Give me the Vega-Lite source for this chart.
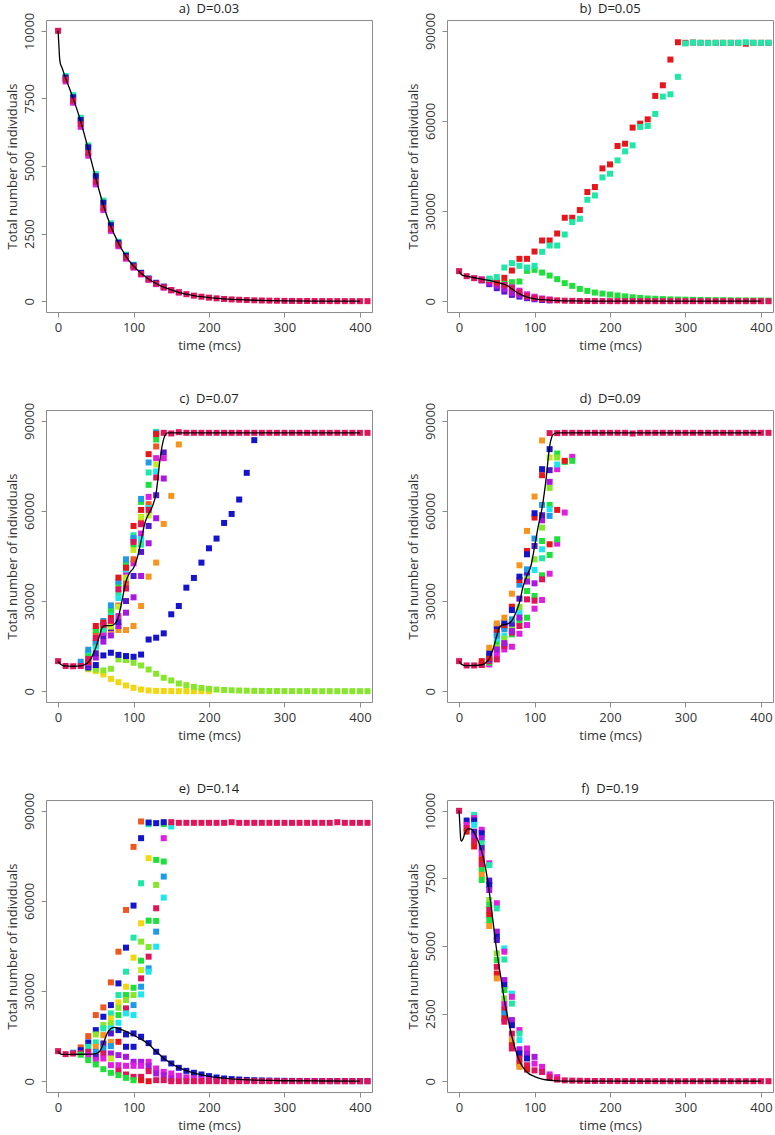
{
"$schema": "https://vega.github.io/schema/vega-lite/v6.json",
"padding": {"left": 5, "top": 2, "right": 0, "bottom": 0},
"background": "white",
"config": {
 "font": "Open Sans",
 "view": {"stroke": "#8c8c8c", "strokeWidth": 1},
 "axis": {"grid": false, "domain": false, "tickColor": "#8c8c8c", "tickSize": 5, "tickWidth": 1, "labelFontSize": 13, "titleFontSize": 13, "labelColor": "#333333", "titleColor": "#333333", "titleFontWeight": "normal", "labelFont": "Open Sans", "titleFont": "Open Sans", "labelFlush": false, "labelOverlap": false},
 "axisX": {"labelPadding": 4, "titlePadding": 5},
 "axisY": {"labelAngle": 270, "labelPadding": 5, "titlePadding": 4, "labelAlign": "center", "labelBaseline": "bottom"},
 "title": {"fontSize": 13, "fontWeight": "normal", "color": "#222222", "anchor": "middle", "frame": "group", "offset": -4, "font": "Open Sans"}
},
"datasets": {
"pts": [
{"p":"a","t":10,"v":8330,"c":"s"},{"p":"a","t":20,"v":7620,"c":"s"},{"p":"a","t":30,"v":6780,"c":"s"},{"p":"a","t":40,"v":5760,"c":"s"},{"p":"a","t":50,"v":4700,"c":"s"},{"p":"a","t":60,"v":3720,"c":"s"},{"p":"a","t":70,"v":2880,"c":"s"},{"p":"a","t":80,"v":2200,"c":"s"},{"p":"a","t":90,"v":1720,"c":"s"},{"p":"a","t":100,"v":1350,"c":"s"},
{"p":"a","t":10,"v":8270,"c":"b"},{"p":"a","t":20,"v":7540,"c":"b"},{"p":"a","t":30,"v":6700,"c":"b"},{"p":"a","t":40,"v":5690,"c":"b"},{"p":"a","t":50,"v":4620,"c":"b"},{"p":"a","t":60,"v":3640,"c":"b"},{"p":"a","t":70,"v":2810,"c":"b"},{"p":"a","t":80,"v":2160,"c":"b"},{"p":"a","t":90,"v":1680,"c":"b"},{"p":"a","t":100,"v":1320,"c":"b"},{"p":"a","t":110,"v":1050,"c":"b"},{"p":"a","t":120,"v":840,"c":"b"},{"p":"a","t":130,"v":680,"c":"b"},{"p":"a","t":140,"v":540,"c":"b"},
{"p":"a","t":10,"v":8130,"c":"m"},{"p":"a","t":20,"v":7340,"c":"m"},{"p":"a","t":30,"v":6450,"c":"m"},{"p":"a","t":40,"v":5380,"c":"m"},{"p":"a","t":50,"v":4320,"c":"m"},{"p":"a","t":60,"v":3370,"c":"m"},{"p":"a","t":70,"v":2600,"c":"m"},{"p":"a","t":80,"v":2030,"c":"m"},{"p":"a","t":90,"v":1570,"c":"m"},{"p":"a","t":100,"v":1240,"c":"m"},{"p":"a","t":110,"v":990,"c":"m"},{"p":"a","t":120,"v":790,"c":"m"},{"p":"a","t":130,"v":630,"c":"m"},{"p":"a","t":140,"v":500,"c":"m"},{"p":"a","t":150,"v":400,"c":"m"},{"p":"a","t":160,"v":320,"c":"m"},
{"p":"a","t":0,"v":10000,"c":"p"},{"p":"a","t":10,"v":8200,"c":"p"},{"p":"a","t":20,"v":7420,"c":"p"},{"p":"a","t":30,"v":6550,"c":"p"},{"p":"a","t":40,"v":5480,"c":"p"},{"p":"a","t":50,"v":4420,"c":"p"},{"p":"a","t":60,"v":3450,"c":"p"},{"p":"a","t":70,"v":2670,"c":"p"},{"p":"a","t":80,"v":2090,"c":"p"},{"p":"a","t":90,"v":1620,"c":"p"},{"p":"a","t":100,"v":1280,"c":"p"},{"p":"a","t":110,"v":1010,"c":"p"},{"p":"a","t":120,"v":810,"c":"p"},{"p":"a","t":130,"v":650,"c":"p"},{"p":"a","t":140,"v":515,"c":"p"},{"p":"a","t":150,"v":410,"c":"p"},{"p":"a","t":160,"v":330,"c":"p"},{"p":"a","t":170,"v":260,"c":"p"},{"p":"a","t":180,"v":205,"c":"p"},{"p":"a","t":190,"v":165,"c":"p"},{"p":"a","t":200,"v":130,"c":"p"},{"p":"a","t":210,"v":105,"c":"p"},{"p":"a","t":220,"v":82,"c":"p"},{"p":"a","t":230,"v":65,"c":"p"},{"p":"a","t":240,"v":52,"c":"p"},{"p":"a","t":250,"v":42,"c":"p"},{"p":"a","t":260,"v":33,"c":"p"},{"p":"a","t":270,"v":26,"c":"p"},{"p":"a","t":280,"v":20,"c":"p"},{"p":"a","t":290,"v":16,"c":"p"},{"p":"a","t":300,"v":12,"c":"p"},{"p":"a","t":310,"v":10,"c":"p"},{"p":"a","t":320,"v":8,"c":"p"},{"p":"a","t":330,"v":6,"c":"p"},{"p":"a","t":340,"v":5,"c":"p"},{"p":"a","t":350,"v":4,"c":"p"},{"p":"a","t":360,"v":3,"c":"p"},{"p":"a","t":370,"v":2,"c":"p"},{"p":"a","t":380,"v":2,"c":"p"},{"p":"a","t":390,"v":1,"c":"p"},{"p":"a","t":400,"v":1,"c":"p"},{"p":"a","t":410,"v":1,"c":"p"},

{"p":"b","t":40,"v":7300,"c":"g"},{"p":"b","t":50,"v":6800,"c":"g"},{"p":"b","t":60,"v":6000,"c":"g"},{"p":"b","t":70,"v":6330,"c":"g"},{"p":"b","t":80,"v":6550,"c":"g"},{"p":"b","t":90,"v":10100,"c":"g"},{"p":"b","t":100,"v":10430,"c":"g"},{"p":"b","t":110,"v":9530,"c":"g"},{"p":"b","t":120,"v":8530,"c":"g"},{"p":"b","t":130,"v":7330,"c":"g"},{"p":"b","t":140,"v":6000,"c":"g"},{"p":"b","t":150,"v":5100,"c":"g"},{"p":"b","t":160,"v":4100,"c":"g"},{"p":"b","t":170,"v":3430,"c":"g"},{"p":"b","t":180,"v":2870,"c":"g"},{"p":"b","t":190,"v":2530,"c":"g"},{"p":"b","t":200,"v":2200,"c":"g"},{"p":"b","t":210,"v":1900,"c":"g"},{"p":"b","t":220,"v":1600,"c":"g"},{"p":"b","t":230,"v":1300,"c":"g"},{"p":"b","t":240,"v":1100,"c":"g"},{"p":"b","t":250,"v":900,"c":"g"},{"p":"b","t":260,"v":800,"c":"g"},{"p":"b","t":270,"v":700,"c":"g"},{"p":"b","t":280,"v":600,"c":"g"},{"p":"b","t":290,"v":550,"c":"g"},{"p":"b","t":300,"v":500,"c":"g"},{"p":"b","t":310,"v":450,"c":"g"},{"p":"b","t":320,"v":400,"c":"g"},{"p":"b","t":330,"v":380,"c":"g"},{"p":"b","t":340,"v":350,"c":"g"},{"p":"b","t":350,"v":320,"c":"g"},{"p":"b","t":360,"v":300,"c":"g"},{"p":"b","t":370,"v":280,"c":"g"},{"p":"b","t":380,"v":260,"c":"g"},{"p":"b","t":390,"v":240,"c":"g"},{"p":"b","t":400,"v":220,"c":"g"},{"p":"b","t":410,"v":200,"c":"g"},
{"p":"b","t":30,"v":7000,"c":"i"},{"p":"b","t":40,"v":5670,"c":"i"},{"p":"b","t":50,"v":4330,"c":"i"},{"p":"b","t":60,"v":3200,"c":"i"},{"p":"b","t":70,"v":2100,"c":"i"},{"p":"b","t":80,"v":1530,"c":"i"},{"p":"b","t":90,"v":1000,"c":"i"},{"p":"b","t":100,"v":650,"c":"i"},{"p":"b","t":110,"v":400,"c":"i"},{"p":"b","t":120,"v":250,"c":"i"},
{"p":"b","t":30,"v":6900,"c":"u"},{"p":"b","t":40,"v":6100,"c":"u"},{"p":"b","t":50,"v":5100,"c":"u"},{"p":"b","t":60,"v":4000,"c":"u"},{"p":"b","t":70,"v":2700,"c":"u"},{"p":"b","t":80,"v":2000,"c":"u"},{"p":"b","t":90,"v":1300,"c":"u"},{"p":"b","t":100,"v":900,"c":"u"},
{"p":"b","t":30,"v":7300,"c":"m"},{"p":"b","t":40,"v":6900,"c":"m"},{"p":"b","t":50,"v":6400,"c":"m"},{"p":"b","t":60,"v":5400,"c":"m"},{"p":"b","t":70,"v":4600,"c":"m"},{"p":"b","t":80,"v":3500,"c":"m"},{"p":"b","t":90,"v":2300,"c":"m"},{"p":"b","t":100,"v":1500,"c":"m"},{"p":"b","t":110,"v":900,"c":"m"},{"p":"b","t":120,"v":550,"c":"m"},
{"p":"b","t":0,"v":10000,"c":"p"},{"p":"b","t":10,"v":8330,"c":"p"},{"p":"b","t":20,"v":7670,"c":"p"},{"p":"b","t":30,"v":7100,"c":"p"},{"p":"b","t":40,"v":6900,"c":"p"},{"p":"b","t":50,"v":6000,"c":"p"},{"p":"b","t":60,"v":5300,"c":"p"},{"p":"b","t":70,"v":4300,"c":"p"},{"p":"b","t":80,"v":3000,"c":"p"},{"p":"b","t":90,"v":1700,"c":"p"},{"p":"b","t":100,"v":1100,"c":"p"},{"p":"b","t":110,"v":700,"c":"p"},{"p":"b","t":120,"v":450,"c":"p"},{"p":"b","t":130,"v":280,"c":"p"},{"p":"b","t":140,"v":170,"c":"p"},{"p":"b","t":150,"v":110,"c":"p"},{"p":"b","t":160,"v":70,"c":"p"},{"p":"b","t":170,"v":45,"c":"p"},{"p":"b","t":180,"v":30,"c":"p"},{"p":"b","t":190,"v":20,"c":"p"},{"p":"b","t":200,"v":15,"c":"p"},{"p":"b","t":210,"v":10,"c":"p"},{"p":"b","t":220,"v":8,"c":"p"},{"p":"b","t":230,"v":6,"c":"p"},{"p":"b","t":240,"v":5,"c":"p"},{"p":"b","t":250,"v":4,"c":"p"},{"p":"b","t":260,"v":3,"c":"p"},{"p":"b","t":270,"v":2,"c":"p"},{"p":"b","t":280,"v":2,"c":"p"},{"p":"b","t":290,"v":1,"c":"p"},{"p":"b","t":300,"v":0,"c":"p"},{"p":"b","t":310,"v":0,"c":"p"},{"p":"b","t":320,"v":0,"c":"p"},{"p":"b","t":330,"v":0,"c":"p"},{"p":"b","t":340,"v":0,"c":"p"},{"p":"b","t":350,"v":0,"c":"p"},{"p":"b","t":360,"v":0,"c":"p"},{"p":"b","t":370,"v":0,"c":"p"},{"p":"b","t":380,"v":0,"c":"p"},{"p":"b","t":390,"v":0,"c":"p"},{"p":"b","t":400,"v":0,"c":"p"},{"p":"b","t":410,"v":0,"c":"p"},
{"p":"b","t":50,"v":6500,"c":"r"},{"p":"b","t":60,"v":7770,"c":"r"},{"p":"b","t":70,"v":10200,"c":"r"},{"p":"b","t":80,"v":14100,"c":"r"},{"p":"b","t":90,"v":14100,"c":"r"},{"p":"b","t":100,"v":16530,"c":"r"},{"p":"b","t":110,"v":20200,"c":"r"},{"p":"b","t":120,"v":20200,"c":"r"},{"p":"b","t":130,"v":22530,"c":"r"},{"p":"b","t":140,"v":27770,"c":"r"},{"p":"b","t":150,"v":27770,"c":"r"},{"p":"b","t":160,"v":30330,"c":"r"},{"p":"b","t":170,"v":36330,"c":"r"},{"p":"b","t":180,"v":38000,"c":"r"},{"p":"b","t":190,"v":44200,"c":"r"},{"p":"b","t":200,"v":45530,"c":"r"},{"p":"b","t":210,"v":51670,"c":"r"},{"p":"b","t":220,"v":52430,"c":"r"},{"p":"b","t":230,"v":57770,"c":"r"},{"p":"b","t":240,"v":59100,"c":"r"},{"p":"b","t":250,"v":60530,"c":"r"},{"p":"b","t":260,"v":68330,"c":"r"},{"p":"b","t":270,"v":71870,"c":"r"},{"p":"b","t":280,"v":80430,"c":"r"},{"p":"b","t":290,"v":86200,"c":"r"},{"p":"b","t":300,"v":86000,"c":"r"},{"p":"b","t":310,"v":86100,"c":"r"},{"p":"b","t":320,"v":86000,"c":"r"},{"p":"b","t":330,"v":86000,"c":"r"},{"p":"b","t":340,"v":86000,"c":"r"},{"p":"b","t":350,"v":86000,"c":"r"},{"p":"b","t":360,"v":86000,"c":"r"},{"p":"b","t":370,"v":86000,"c":"r"},{"p":"b","t":380,"v":85700,"c":"r"},{"p":"b","t":390,"v":86000,"c":"r"},{"p":"b","t":400,"v":86000,"c":"r"},{"p":"b","t":410,"v":86000,"c":"r"},
{"p":"b","t":40,"v":7500,"c":"s"},{"p":"b","t":50,"v":8000,"c":"s"},{"p":"b","t":60,"v":11200,"c":"s"},{"p":"b","t":70,"v":12670,"c":"s"},{"p":"b","t":80,"v":11770,"c":"s"},{"p":"b","t":90,"v":11200,"c":"s"},{"p":"b","t":100,"v":11770,"c":"s"},{"p":"b","t":110,"v":16430,"c":"s"},{"p":"b","t":120,"v":18530,"c":"s"},{"p":"b","t":130,"v":18530,"c":"s"},{"p":"b","t":140,"v":22200,"c":"s"},{"p":"b","t":150,"v":26330,"c":"s"},{"p":"b","t":160,"v":27430,"c":"s"},{"p":"b","t":170,"v":33770,"c":"s"},{"p":"b","t":180,"v":35200,"c":"s"},{"p":"b","t":190,"v":41200,"c":"s"},{"p":"b","t":200,"v":42430,"c":"s"},{"p":"b","t":210,"v":46870,"c":"s"},{"p":"b","t":220,"v":49870,"c":"s"},{"p":"b","t":230,"v":51870,"c":"s"},{"p":"b","t":240,"v":58000,"c":"s"},{"p":"b","t":250,"v":58330,"c":"s"},{"p":"b","t":260,"v":62330,"c":"s"},{"p":"b","t":270,"v":68100,"c":"s"},{"p":"b","t":280,"v":68870,"c":"s"},{"p":"b","t":290,"v":74670,"c":"s"},{"p":"b","t":300,"v":85800,"c":"s"},{"p":"b","t":310,"v":86100,"c":"s"},{"p":"b","t":320,"v":86000,"c":"s"},{"p":"b","t":330,"v":85900,"c":"s"},{"p":"b","t":340,"v":86000,"c":"s"},{"p":"b","t":350,"v":86000,"c":"s"},{"p":"b","t":360,"v":86000,"c":"s"},{"p":"b","t":370,"v":86000,"c":"s"},{"p":"b","t":380,"v":86200,"c":"s"},{"p":"b","t":390,"v":86000,"c":"s"},{"p":"b","t":400,"v":86000,"c":"s"},{"p":"b","t":410,"v":86000,"c":"s"},

{"p":"c","t":40,"v":7300,"c":"y"},{"p":"c","t":50,"v":6670,"c":"y"},{"p":"c","t":60,"v":5550,"c":"y"},{"p":"c","t":70,"v":4110,"c":"y"},{"p":"c","t":80,"v":3000,"c":"y"},{"p":"c","t":90,"v":1900,"c":"y"},{"p":"c","t":100,"v":1130,"c":"y"},{"p":"c","t":110,"v":560,"c":"y"},{"p":"c","t":120,"v":250,"c":"y"},{"p":"c","t":130,"v":100,"c":"y"},{"p":"c","t":140,"v":50,"c":"y"},{"p":"c","t":150,"v":20,"c":"y"},{"p":"c","t":160,"v":10,"c":"y"},{"p":"c","t":170,"v":5,"c":"y"},{"p":"c","t":180,"v":0,"c":"y"},{"p":"c","t":190,"v":0,"c":"y"},{"p":"c","t":200,"v":0,"c":"y"},
{"p":"c","t":40,"v":7600,"c":"l"},{"p":"c","t":50,"v":7200,"c":"l"},{"p":"c","t":60,"v":6900,"c":"l"},{"p":"c","t":70,"v":7460,"c":"l"},{"p":"c","t":80,"v":10570,"c":"l"},{"p":"c","t":90,"v":10350,"c":"l"},{"p":"c","t":100,"v":9460,"c":"l"},{"p":"c","t":110,"v":8570,"c":"l"},{"p":"c","t":120,"v":7230,"c":"l"},{"p":"c","t":130,"v":5800,"c":"l"},{"p":"c","t":140,"v":4460,"c":"l"},{"p":"c","t":150,"v":3570,"c":"l"},{"p":"c","t":160,"v":2560,"c":"l"},{"p":"c","t":170,"v":2000,"c":"l"},{"p":"c","t":180,"v":1450,"c":"l"},{"p":"c","t":190,"v":1100,"c":"l"},{"p":"c","t":200,"v":800,"c":"l"},{"p":"c","t":210,"v":550,"c":"l"},{"p":"c","t":220,"v":400,"c":"l"},{"p":"c","t":230,"v":300,"c":"l"},{"p":"c","t":240,"v":220,"c":"l"},{"p":"c","t":250,"v":160,"c":"l"},{"p":"c","t":260,"v":110,"c":"l"},{"p":"c","t":270,"v":80,"c":"l"},{"p":"c","t":280,"v":60,"c":"l"},{"p":"c","t":290,"v":45,"c":"l"},{"p":"c","t":300,"v":35,"c":"l"},{"p":"c","t":310,"v":25,"c":"l"},{"p":"c","t":320,"v":20,"c":"l"},{"p":"c","t":330,"v":15,"c":"l"},{"p":"c","t":340,"v":12,"c":"l"},{"p":"c","t":350,"v":10,"c":"l"},{"p":"c","t":360,"v":8,"c":"l"},{"p":"c","t":370,"v":6,"c":"l"},{"p":"c","t":380,"v":5,"c":"l"},{"p":"c","t":390,"v":4,"c":"l"},{"p":"c","t":400,"v":3,"c":"l"},{"p":"c","t":410,"v":2,"c":"l"},
{"p":"c","t":40,"v":7900,"c":"b"},{"p":"c","t":50,"v":8700,"c":"b"},{"p":"c","t":60,"v":11900,"c":"b"},{"p":"c","t":70,"v":12800,"c":"b"},{"p":"c","t":80,"v":12100,"c":"b"},{"p":"c","t":90,"v":11700,"c":"b"},{"p":"c","t":100,"v":11450,"c":"b"},{"p":"c","t":110,"v":12200,"c":"b"},{"p":"c","t":120,"v":17200,"c":"b"},{"p":"c","t":130,"v":17800,"c":"b"},{"p":"c","t":140,"v":19250,"c":"b"},{"p":"c","t":150,"v":25600,"c":"b"},{"p":"c","t":160,"v":28350,"c":"b"},{"p":"c","t":170,"v":34460,"c":"b"},{"p":"c","t":180,"v":37700,"c":"b"},{"p":"c","t":190,"v":42800,"c":"b"},{"p":"c","t":200,"v":47570,"c":"b"},{"p":"c","t":210,"v":50800,"c":"b"},{"p":"c","t":220,"v":56000,"c":"b"},{"p":"c","t":230,"v":59000,"c":"b"},{"p":"c","t":240,"v":63800,"c":"b"},{"p":"c","t":250,"v":72680,"c":"b"},{"p":"c","t":260,"v":83570,"c":"b"},
{"p":"c","t":50,"v":17000,"c":"o"},{"p":"c","t":60,"v":19500,"c":"o"},{"p":"c","t":70,"v":20500,"c":"o"},{"p":"c","t":80,"v":20350,"c":"o"},{"p":"c","t":90,"v":20350,"c":"o"},{"p":"c","t":100,"v":21700,"c":"o"},{"p":"c","t":110,"v":28350,"c":"o"},{"p":"c","t":120,"v":38130,"c":"o"},{"p":"c","t":130,"v":42800,"c":"o"},{"p":"c","t":140,"v":55680,"c":"o"},{"p":"c","t":150,"v":65000,"c":"o"},{"p":"c","t":160,"v":82120,"c":"o"},
{"p":"c","t":40,"v":8300,"c":"u"},{"p":"c","t":50,"v":11200,"c":"u"},{"p":"c","t":60,"v":16500,"c":"u"},{"p":"c","t":70,"v":18560,"c":"u"},{"p":"c","t":80,"v":21700,"c":"u"},{"p":"c","t":90,"v":26130,"c":"u"},{"p":"c","t":100,"v":31240,"c":"u"},{"p":"c","t":110,"v":38350,"c":"u"},{"p":"c","t":120,"v":49240,"c":"u"},{"p":"c","t":130,"v":57570,"c":"u"},{"p":"c","t":140,"v":70790,"c":"u"},
{"p":"c","t":40,"v":8600,"c":"i"},{"p":"c","t":50,"v":12600,"c":"i"},{"p":"c","t":60,"v":18350,"c":"i"},{"p":"c","t":70,"v":21000,"c":"i"},{"p":"c","t":80,"v":23000,"c":"i"},{"p":"c","t":90,"v":30000,"c":"i"},{"p":"c","t":100,"v":38350,"c":"i"},{"p":"c","t":110,"v":46350,"c":"i"},{"p":"c","t":120,"v":55000,"c":"i"},{"p":"c","t":130,"v":65240,"c":"i"},{"p":"c","t":140,"v":79460,"c":"i"},
{"p":"c","t":40,"v":9500,"c":"m"},{"p":"c","t":50,"v":15350,"c":"m"},{"p":"c","t":60,"v":19460,"c":"m"},{"p":"c","t":70,"v":22500,"c":"m"},{"p":"c","t":80,"v":25000,"c":"m"},{"p":"c","t":90,"v":39450,"c":"m"},{"p":"c","t":100,"v":42570,"c":"m"},{"p":"c","t":110,"v":52460,"c":"m"},{"p":"c","t":120,"v":64680,"c":"m"},{"p":"c","t":130,"v":77570,"c":"m"},{"p":"c","t":140,"v":77570,"c":"m"},
{"p":"c","t":50,"v":19000,"c":"v"},{"p":"c","t":60,"v":20800,"c":"v"},{"p":"c","t":70,"v":22000,"c":"v"},{"p":"c","t":80,"v":28500,"c":"v"},{"p":"c","t":90,"v":36000,"c":"v"},{"p":"c","t":100,"v":43900,"c":"v"},{"p":"c","t":110,"v":56680,"c":"v"},{"p":"c","t":120,"v":62240,"c":"v"},{"p":"c","t":130,"v":81460,"c":"v"},
{"p":"c","t":70,"v":21500,"c":"h"},{"p":"c","t":80,"v":28120,"c":"h"},{"p":"c","t":90,"v":37800,"c":"h"},{"p":"c","t":100,"v":47000,"c":"h"},{"p":"c","t":110,"v":58000,"c":"h"},{"p":"c","t":120,"v":58500,"c":"h"},{"p":"c","t":130,"v":75460,"c":"h"},
{"p":"c","t":40,"v":12400,"c":"c"},{"p":"c","t":50,"v":14800,"c":"c"},{"p":"c","t":60,"v":21200,"c":"c"},{"p":"c","t":70,"v":25300,"c":"c"},{"p":"c","t":80,"v":31000,"c":"c"},{"p":"c","t":90,"v":40500,"c":"c"},{"p":"c","t":100,"v":50570,"c":"c"},{"p":"c","t":110,"v":50570,"c":"c"},{"p":"c","t":120,"v":61000,"c":"c"},{"p":"c","t":130,"v":73130,"c":"c"},
{"p":"c","t":40,"v":12900,"c":"s"},{"p":"c","t":50,"v":15900,"c":"s"},{"p":"c","t":60,"v":20500,"c":"s"},{"p":"c","t":70,"v":26130,"c":"s"},{"p":"c","t":80,"v":32800,"c":"s"},{"p":"c","t":90,"v":41800,"c":"s"},{"p":"c","t":100,"v":51900,"c":"s"},{"p":"c","t":110,"v":48790,"c":"s"},{"p":"c","t":120,"v":72800,"c":"s"},{"p":"c","t":130,"v":86300,"c":"s"},
{"p":"c","t":40,"v":11500,"c":"g"},{"p":"c","t":50,"v":20350,"c":"g"},{"p":"c","t":60,"v":22000,"c":"g"},{"p":"c","t":70,"v":27240,"c":"g"},{"p":"c","t":80,"v":35460,"c":"g"},{"p":"c","t":90,"v":42900,"c":"g"},{"p":"c","t":100,"v":48900,"c":"g"},{"p":"c","t":110,"v":63000,"c":"g"},{"p":"c","t":120,"v":68680,"c":"g"},{"p":"c","t":130,"v":83790,"c":"g"},
{"p":"c","t":30,"v":9800,"c":"k"},{"p":"c","t":40,"v":13800,"c":"k"},{"p":"c","t":50,"v":16500,"c":"k"},{"p":"c","t":60,"v":23350,"c":"k"},{"p":"c","t":70,"v":28570,"c":"k"},{"p":"c","t":80,"v":36500,"c":"k"},{"p":"c","t":90,"v":43900,"c":"k"},{"p":"c","t":100,"v":51000,"c":"k"},{"p":"c","t":110,"v":64000,"c":"k"},{"p":"c","t":120,"v":76130,"c":"k"},{"p":"c","t":130,"v":86000,"c":"k"},
{"p":"c","t":40,"v":9800,"c":"r"},{"p":"c","t":50,"v":21700,"c":"r"},{"p":"c","t":60,"v":22800,"c":"r"},{"p":"c","t":70,"v":24350,"c":"r"},{"p":"c","t":80,"v":37800,"c":"r"},{"p":"c","t":90,"v":41100,"c":"r"},{"p":"c","t":100,"v":55000,"c":"r"},{"p":"c","t":110,"v":60350,"c":"r"},{"p":"c","t":120,"v":78900,"c":"r"},{"p":"c","t":130,"v":85600,"c":"r"},
{"p":"c","t":0,"v":10000,"c":"p"},{"p":"c","t":10,"v":8400,"c":"p"},{"p":"c","t":20,"v":8300,"c":"p"},{"p":"c","t":30,"v":8400,"c":"p"},{"p":"c","t":40,"v":10700,"c":"p"},{"p":"c","t":50,"v":17700,"c":"p"},{"p":"c","t":60,"v":22020,"c":"p"},{"p":"c","t":70,"v":23460,"c":"p"},{"p":"c","t":80,"v":33900,"c":"p"},{"p":"c","t":90,"v":34180,"c":"p"},{"p":"c","t":100,"v":49680,"c":"p"},{"p":"c","t":110,"v":55570,"c":"p"},{"p":"c","t":120,"v":60350,"c":"p"},{"p":"c","t":130,"v":71130,"c":"p"},{"p":"c","t":140,"v":86000,"c":"p"},{"p":"c","t":150,"v":85800,"c":"p"},{"p":"c","t":160,"v":86200,"c":"p"},{"p":"c","t":170,"v":86000,"c":"p"},{"p":"c","t":180,"v":86000,"c":"p"},{"p":"c","t":190,"v":86000,"c":"p"},{"p":"c","t":200,"v":86000,"c":"p"},{"p":"c","t":210,"v":86000,"c":"p"},{"p":"c","t":220,"v":86000,"c":"p"},{"p":"c","t":230,"v":86000,"c":"p"},{"p":"c","t":240,"v":86000,"c":"p"},{"p":"c","t":250,"v":86000,"c":"p"},{"p":"c","t":260,"v":86000,"c":"p"},{"p":"c","t":270,"v":86000,"c":"p"},{"p":"c","t":280,"v":86000,"c":"p"},{"p":"c","t":290,"v":86000,"c":"p"},{"p":"c","t":300,"v":86000,"c":"p"},{"p":"c","t":310,"v":86000,"c":"p"},{"p":"c","t":320,"v":86000,"c":"p"},{"p":"c","t":330,"v":86000,"c":"p"},{"p":"c","t":340,"v":86000,"c":"p"},{"p":"c","t":350,"v":86000,"c":"p"},{"p":"c","t":360,"v":86000,"c":"p"},{"p":"c","t":370,"v":86000,"c":"p"},{"p":"c","t":380,"v":86000,"c":"p"},{"p":"c","t":390,"v":86000,"c":"p"},{"p":"c","t":400,"v":86000,"c":"p"},{"p":"c","t":410,"v":86000,"c":"p"},

{"p":"d","t":30,"v":8900,"c":"m"},{"p":"d","t":40,"v":8900,"c":"m"},{"p":"d","t":50,"v":12240,"c":"m"},{"p":"d","t":60,"v":13900,"c":"m"},{"p":"d","t":70,"v":14800,"c":"m"},{"p":"d","t":80,"v":19120,"c":"m"},{"p":"d","t":90,"v":22020,"c":"m"},{"p":"d","t":100,"v":27460,"c":"m"},{"p":"d","t":110,"v":30350,"c":"m"},{"p":"d","t":120,"v":39100,"c":"m"},{"p":"d","t":130,"v":49120,"c":"m"},{"p":"d","t":140,"v":59460,"c":"m"},{"p":"d","t":150,"v":78000,"c":"m"},{"p":"d","t":130,"v":73900,"c":"m"},
{"p":"d","t":40,"v":9500,"c":"g"},{"p":"d","t":50,"v":16130,"c":"g"},{"p":"d","t":60,"v":15570,"c":"g"},{"p":"d","t":70,"v":18900,"c":"g"},{"p":"d","t":80,"v":23570,"c":"g"},{"p":"d","t":90,"v":33350,"c":"g"},{"p":"d","t":100,"v":31680,"c":"g"},{"p":"d","t":110,"v":50000,"c":"g"},{"p":"d","t":120,"v":62000,"c":"g"},{"p":"d","t":130,"v":79120,"c":"g"},
{"p":"d","t":90,"v":24460,"c":"g"},{"p":"d","t":110,"v":38570,"c":"g"},{"p":"d","t":120,"v":45350,"c":"g"},{"p":"d","t":130,"v":50570,"c":"g"},{"p":"d","t":140,"v":76300,"c":"g"},{"p":"d","t":150,"v":76680,"c":"g"},
{"p":"d","t":0,"v":10000,"c":"p"},{"p":"d","t":10,"v":8570,"c":"p"},{"p":"d","t":20,"v":8570,"c":"p"},{"p":"d","t":30,"v":8700,"c":"p"},{"p":"d","t":40,"v":10000,"c":"p"},{"p":"d","t":50,"v":10570,"c":"p"},{"p":"d","t":60,"v":15000,"c":"p"},{"p":"d","t":70,"v":19500,"c":"p"},{"p":"d","t":80,"v":21680,"c":"p"},{"p":"d","t":90,"v":30570,"c":"p"},{"p":"d","t":100,"v":30130,"c":"p"},{"p":"d","t":110,"v":37240,"c":"p"},
{"p":"d","t":50,"v":17500,"c":"c"},{"p":"d","t":60,"v":18350,"c":"c"},{"p":"d","t":70,"v":21500,"c":"c"},{"p":"d","t":80,"v":26130,"c":"c"},{"p":"d","t":90,"v":38000,"c":"c"},{"p":"d","t":100,"v":40350,"c":"c"},{"p":"d","t":110,"v":47240,"c":"c"},{"p":"d","t":120,"v":60570,"c":"c"},{"p":"d","t":130,"v":75460,"c":"c"},
{"p":"d","t":40,"v":10500,"c":"l"},{"p":"d","t":50,"v":14500,"c":"l"},{"p":"d","t":60,"v":17500,"c":"l"},{"p":"d","t":70,"v":20570,"c":"l"},{"p":"d","t":80,"v":28000,"c":"l"},{"p":"d","t":90,"v":37240,"c":"l"},{"p":"d","t":100,"v":43900,"c":"l"},{"p":"d","t":110,"v":54460,"c":"l"},{"p":"d","t":120,"v":67680,"c":"l"},{"p":"d","t":130,"v":77790,"c":"l"},
{"p":"d","t":120,"v":77790,"c":"h"},{"p":"d","t":110,"v":44240,"c":"s"},
{"p":"d","t":50,"v":13900,"c":"u"},{"p":"d","t":60,"v":16000,"c":"u"},{"p":"d","t":70,"v":20000,"c":"u"},{"p":"d","t":80,"v":24500,"c":"u"},{"p":"d","t":90,"v":36500,"c":"u"},{"p":"d","t":100,"v":35900,"c":"u"},{"p":"d","t":110,"v":56900,"c":"u"},{"p":"d","t":120,"v":69680,"c":"u"},
{"p":"d","t":40,"v":10500,"c":"i"},{"p":"d","t":50,"v":19500,"c":"i"},{"p":"d","t":60,"v":21500,"c":"i"},{"p":"d","t":70,"v":22500,"c":"i"},{"p":"d","t":80,"v":30800,"c":"i"},{"p":"d","t":90,"v":39500,"c":"i"},{"p":"d","t":100,"v":48350,"c":"i"},{"p":"d","t":110,"v":58560,"c":"i"},{"p":"d","t":120,"v":73570,"c":"i"},
{"p":"d","t":40,"v":11700,"c":"k"},{"p":"d","t":50,"v":18560,"c":"k"},{"p":"d","t":60,"v":20570,"c":"k"},{"p":"d","t":70,"v":23900,"c":"k"},{"p":"d","t":80,"v":35460,"c":"k"},{"p":"d","t":90,"v":40570,"c":"k"},{"p":"d","t":100,"v":50800,"c":"k"},{"p":"d","t":110,"v":62000,"c":"k"},{"p":"d","t":120,"v":58350,"c":"k"},
{"p":"d","t":30,"v":10000,"c":"r"},{"p":"d","t":40,"v":11000,"c":"r"},{"p":"d","t":50,"v":20500,"c":"r"},{"p":"d","t":60,"v":22000,"c":"r"},{"p":"d","t":70,"v":28120,"c":"r"},{"p":"d","t":80,"v":37000,"c":"r"},{"p":"d","t":90,"v":46680,"c":"r"},{"p":"d","t":100,"v":57800,"c":"r"},{"p":"d","t":110,"v":71900,"c":"r"},{"p":"d","t":120,"v":48900,"c":"r"},{"p":"d","t":130,"v":60350,"c":"r"},{"p":"d","t":140,"v":76680,"c":"r"},
{"p":"d","t":40,"v":12800,"c":"b"},{"p":"d","t":50,"v":21680,"c":"b"},{"p":"d","t":60,"v":22800,"c":"b"},{"p":"d","t":70,"v":27000,"c":"b"},{"p":"d","t":80,"v":38130,"c":"b"},{"p":"d","t":90,"v":45570,"c":"b"},{"p":"d","t":100,"v":59240,"c":"b"},{"p":"d","t":110,"v":73900,"c":"b"},{"p":"d","t":120,"v":80570,"c":"b"},
{"p":"d","t":40,"v":14460,"c":"o"},{"p":"d","t":50,"v":22570,"c":"o"},{"p":"d","t":60,"v":24460,"c":"o"},{"p":"d","t":70,"v":32460,"c":"o"},{"p":"d","t":80,"v":41900,"c":"o"},{"p":"d","t":90,"v":53350,"c":"o"},{"p":"d","t":100,"v":64800,"c":"o"},{"p":"d","t":110,"v":83460,"c":"o"},
{"p":"d","t":120,"v":85900,"c":"p"},{"p":"d","t":130,"v":85900,"c":"p"},{"p":"d","t":140,"v":86000,"c":"p"},{"p":"d","t":150,"v":86000,"c":"p"},{"p":"d","t":160,"v":86000,"c":"p"},{"p":"d","t":170,"v":86000,"c":"p"},{"p":"d","t":180,"v":86000,"c":"p"},{"p":"d","t":190,"v":86000,"c":"p"},{"p":"d","t":200,"v":86000,"c":"p"},{"p":"d","t":210,"v":86000,"c":"p"},{"p":"d","t":220,"v":86000,"c":"p"},{"p":"d","t":230,"v":85800,"c":"p"},{"p":"d","t":240,"v":86000,"c":"p"},{"p":"d","t":250,"v":86000,"c":"p"},{"p":"d","t":260,"v":86000,"c":"p"},{"p":"d","t":270,"v":86000,"c":"p"},{"p":"d","t":280,"v":86000,"c":"p"},{"p":"d","t":290,"v":86000,"c":"p"},{"p":"d","t":300,"v":86000,"c":"p"},{"p":"d","t":310,"v":86000,"c":"p"},{"p":"d","t":320,"v":86000,"c":"p"},{"p":"d","t":330,"v":86000,"c":"p"},{"p":"d","t":340,"v":86000,"c":"p"},{"p":"d","t":350,"v":86000,"c":"p"},{"p":"d","t":360,"v":86000,"c":"p"},{"p":"d","t":370,"v":86000,"c":"p"},{"p":"d","t":380,"v":86000,"c":"p"},{"p":"d","t":390,"v":86000,"c":"p"},{"p":"d","t":400,"v":86000,"c":"p"},{"p":"d","t":410,"v":86000,"c":"p"},

{"p":"e","t":0,"v":10000,"c":"p"},{"p":"e","t":10,"v":9000,"c":"p"},{"p":"e","t":20,"v":9500,"c":"k"},{"p":"e","t":20,"v":9200,"c":"p"},
{"p":"e","t":30,"v":11240,"c":"v"},{"p":"e","t":30,"v":10300,"c":"b"},{"p":"e","t":30,"v":9300,"c":"p"},{"p":"e","t":30,"v":8800,"c":"g"},
{"p":"e","t":40,"v":15000,"c":"v"},{"p":"e","t":40,"v":12900,"c":"b"},{"p":"e","t":40,"v":11450,"c":"s"},{"p":"e","t":40,"v":9780,"c":"p"},{"p":"e","t":40,"v":8670,"c":"m"},{"p":"e","t":40,"v":7000,"c":"g"},
{"p":"e","t":50,"v":22000,"c":"v"},{"p":"e","t":50,"v":17000,"c":"b"},{"p":"e","t":50,"v":15550,"c":"l"},{"p":"e","t":50,"v":12900,"c":"s"},{"p":"e","t":50,"v":11450,"c":"o"},{"p":"e","t":50,"v":9780,"c":"k"},{"p":"e","t":50,"v":8110,"c":"i"},{"p":"e","t":50,"v":7000,"c":"m"},{"p":"e","t":50,"v":5570,"c":"g"},
{"p":"e","t":60,"v":24560,"c":"v"},{"p":"e","t":60,"v":21450,"c":"b"},{"p":"e","t":60,"v":18670,"c":"l"},{"p":"e","t":60,"v":17560,"c":"s"},{"p":"e","t":60,"v":15340,"c":"o"},{"p":"e","t":60,"v":12560,"c":"i"},{"p":"e","t":60,"v":10900,"c":"k"},{"p":"e","t":60,"v":9220,"c":"p"},{"p":"e","t":60,"v":7560,"c":"m"},{"p":"e","t":60,"v":4000,"c":"g"},
{"p":"e","t":70,"v":32890,"c":"v"},{"p":"e","t":70,"v":25330,"c":"b"},{"p":"e","t":70,"v":22560,"c":"s"},{"p":"e","t":70,"v":20900,"c":"y"},{"p":"e","t":70,"v":19230,"c":"l"},{"p":"e","t":70,"v":17560,"c":"c"},{"p":"e","t":70,"v":15900,"c":"i"},{"p":"e","t":70,"v":13110,"c":"o"},{"p":"e","t":70,"v":11670,"c":"k"},{"p":"e","t":70,"v":9220,"c":"u"},{"p":"e","t":70,"v":7560,"c":"h"},{"p":"e","t":70,"v":5330,"c":"m"},{"p":"e","t":70,"v":2780,"c":"g"},
{"p":"e","t":80,"v":43110,"c":"v"},{"p":"e","t":80,"v":32560,"c":"b"},{"p":"e","t":80,"v":28670,"c":"s"},{"p":"e","t":80,"v":26230,"c":"y"},{"p":"e","t":80,"v":24450,"c":"l"},{"p":"e","t":80,"v":22000,"c":"g"},{"p":"e","t":80,"v":19450,"c":"c"},{"p":"e","t":80,"v":17000,"c":"b"},{"p":"e","t":80,"v":13110,"c":"r"},{"p":"e","t":80,"v":8670,"c":"u"},{"p":"e","t":80,"v":5330,"c":"m"},{"p":"e","t":80,"v":3440,"c":"p"},{"p":"e","t":80,"v":2000,"c":"g"},
{"p":"e","t":90,"v":57000,"c":"v"},{"p":"e","t":90,"v":44450,"c":"b"},{"p":"e","t":90,"v":36450,"c":"s"},{"p":"e","t":90,"v":31450,"c":"y"},{"p":"e","t":90,"v":28670,"c":"g"},{"p":"e","t":90,"v":27000,"c":"l"},{"p":"e","t":90,"v":24230,"c":"p"},{"p":"e","t":90,"v":22560,"c":"c"},{"p":"e","t":90,"v":15560,"c":"b"},{"p":"e","t":90,"v":11450,"c":"b"},{"p":"e","t":90,"v":8110,"c":"u"},{"p":"e","t":90,"v":5110,"c":"m"},{"p":"e","t":90,"v":2220,"c":"p"},{"p":"e","t":90,"v":1110,"c":"g"},
{"p":"e","t":100,"v":78000,"c":"v"},{"p":"e","t":100,"v":58450,"c":"b"},{"p":"e","t":100,"v":47780,"c":"s"},{"p":"e","t":100,"v":41110,"c":"y"},{"p":"e","t":100,"v":31110,"c":"g"},{"p":"e","t":100,"v":28670,"c":"l"},{"p":"e","t":100,"v":25330,"c":"k"},{"p":"e","t":100,"v":22000,"c":"c"},{"p":"e","t":100,"v":15900,"c":"b"},{"p":"e","t":100,"v":11450,"c":"b"},{"p":"e","t":100,"v":6450,"c":"u"},{"p":"e","t":100,"v":5110,"c":"m"},{"p":"e","t":100,"v":1450,"c":"p"},{"p":"e","t":100,"v":330,"c":"g"},
{"p":"e","t":110,"v":86450,"c":"v"},{"p":"e","t":110,"v":80890,"c":"b"},{"p":"e","t":110,"v":65890,"c":"s"},{"p":"e","t":110,"v":52560,"c":"y"},{"p":"e","t":110,"v":46450,"c":"l"},{"p":"e","t":110,"v":40110,"c":"g"},{"p":"e","t":110,"v":37000,"c":"h"},{"p":"e","t":110,"v":34230,"c":"p"},{"p":"e","t":110,"v":31450,"c":"k"},{"p":"e","t":110,"v":28890,"c":"c"},{"p":"e","t":110,"v":14780,"c":"b"},{"p":"e","t":110,"v":6450,"c":"u"},{"p":"e","t":110,"v":5110,"c":"m"},{"p":"e","t":110,"v":1450,"c":"p"},{"p":"e","t":110,"v":330,"c":"r"},
{"p":"e","t":120,"v":85560,"c":"s"},{"p":"e","t":120,"v":86100,"c":"b"},{"p":"e","t":120,"v":74220,"c":"y"},{"p":"e","t":120,"v":53450,"c":"g"},{"p":"e","t":120,"v":44670,"c":"l"},{"p":"e","t":120,"v":41450,"c":"p"},{"p":"e","t":120,"v":37560,"c":"k"},{"p":"e","t":120,"v":36450,"c":"c"},{"p":"e","t":120,"v":12670,"c":"b"},{"p":"e","t":120,"v":6450,"c":"m"},{"p":"e","t":120,"v":5000,"c":"u"},{"p":"e","t":120,"v":3340,"c":"p"},{"p":"e","t":120,"v":0,"c":"r"},
{"p":"e","t":130,"v":85890,"c":"b"},{"p":"e","t":130,"v":73670,"c":"g"},{"p":"e","t":130,"v":65330,"c":"l"},{"p":"e","t":130,"v":57560,"c":"p"},{"p":"e","t":130,"v":53340,"c":"g"},{"p":"e","t":130,"v":49780,"c":"k"},{"p":"e","t":130,"v":44780,"c":"c"},{"p":"e","t":130,"v":9780,"c":"b"},{"p":"e","t":130,"v":4230,"c":"m"},{"p":"e","t":130,"v":2560,"c":"u"},{"p":"e","t":130,"v":330,"c":"p"},
{"p":"e","t":140,"v":85560,"c":"g"},{"p":"e","t":140,"v":86220,"c":"b"},{"p":"e","t":140,"v":80890,"c":"m"},{"p":"e","t":140,"v":73110,"c":"g"},{"p":"e","t":140,"v":68110,"c":"k"},{"p":"e","t":140,"v":61110,"c":"c"},{"p":"e","t":140,"v":7560,"c":"b"},{"p":"e","t":140,"v":3100,"c":"m"},{"p":"e","t":140,"v":2000,"c":"u"},{"p":"e","t":140,"v":330,"c":"p"},
{"p":"e","t":150,"v":84780,"c":"c"},{"p":"e","t":150,"v":86220,"c":"p"},{"p":"e","t":150,"v":5900,"c":"b"},{"p":"e","t":150,"v":2560,"c":"m"},{"p":"e","t":150,"v":900,"c":"u"},{"p":"e","t":150,"v":0,"c":"p"},
{"p":"e","t":160,"v":4450,"c":"b"},{"p":"e","t":170,"v":3450,"c":"b"},{"p":"e","t":180,"v":2790,"c":"b"},{"p":"e","t":190,"v":2230,"c":"b"},{"p":"e","t":200,"v":1680,"c":"b"},{"p":"e","t":210,"v":1230,"c":"b"},{"p":"e","t":220,"v":900,"c":"b"},{"p":"e","t":230,"v":700,"c":"b"},{"p":"e","t":240,"v":550,"c":"b"},{"p":"e","t":250,"v":420,"c":"b"},{"p":"e","t":260,"v":320,"c":"b"},{"p":"e","t":270,"v":250,"c":"b"},{"p":"e","t":280,"v":190,"c":"b"},{"p":"e","t":290,"v":150,"c":"b"},{"p":"e","t":300,"v":120,"c":"b"},{"p":"e","t":310,"v":100,"c":"b"},{"p":"e","t":320,"v":80,"c":"b"},{"p":"e","t":330,"v":60,"c":"b"},{"p":"e","t":340,"v":50,"c":"b"},{"p":"e","t":350,"v":40,"c":"b"},{"p":"e","t":360,"v":30,"c":"b"},{"p":"e","t":370,"v":25,"c":"b"},{"p":"e","t":380,"v":20,"c":"b"},{"p":"e","t":390,"v":15,"c":"b"},{"p":"e","t":400,"v":10,"c":"b"},{"p":"e","t":410,"v":8,"c":"b"},
{"p":"e","t":160,"v":1800,"c":"m"},{"p":"e","t":170,"v":1300,"c":"m"},{"p":"e","t":180,"v":900,"c":"m"},{"p":"e","t":190,"v":600,"c":"m"},{"p":"e","t":200,"v":400,"c":"m"},{"p":"e","t":210,"v":250,"c":"m"},{"p":"e","t":220,"v":150,"c":"m"},
{"p":"e","t":160,"v":0,"c":"p"},{"p":"e","t":170,"v":0,"c":"p"},{"p":"e","t":180,"v":0,"c":"p"},{"p":"e","t":190,"v":0,"c":"p"},{"p":"e","t":200,"v":0,"c":"p"},{"p":"e","t":210,"v":0,"c":"p"},{"p":"e","t":220,"v":0,"c":"p"},{"p":"e","t":230,"v":0,"c":"p"},{"p":"e","t":240,"v":0,"c":"p"},{"p":"e","t":250,"v":0,"c":"p"},{"p":"e","t":260,"v":0,"c":"p"},{"p":"e","t":270,"v":0,"c":"p"},{"p":"e","t":280,"v":0,"c":"p"},{"p":"e","t":290,"v":0,"c":"p"},{"p":"e","t":300,"v":0,"c":"p"},{"p":"e","t":310,"v":0,"c":"p"},{"p":"e","t":320,"v":0,"c":"p"},{"p":"e","t":330,"v":0,"c":"p"},{"p":"e","t":340,"v":0,"c":"p"},{"p":"e","t":350,"v":0,"c":"p"},{"p":"e","t":360,"v":0,"c":"p"},{"p":"e","t":370,"v":0,"c":"p"},{"p":"e","t":380,"v":0,"c":"p"},{"p":"e","t":390,"v":0,"c":"p"},{"p":"e","t":400,"v":0,"c":"p"},{"p":"e","t":410,"v":0,"c":"p"},
{"p":"e","t":160,"v":86000,"c":"p"},{"p":"e","t":170,"v":86000,"c":"p"},{"p":"e","t":180,"v":86000,"c":"p"},{"p":"e","t":190,"v":86000,"c":"p"},{"p":"e","t":200,"v":86000,"c":"p"},{"p":"e","t":210,"v":86000,"c":"p"},{"p":"e","t":220,"v":86000,"c":"p"},{"p":"e","t":230,"v":86200,"c":"p"},{"p":"e","t":240,"v":86000,"c":"p"},{"p":"e","t":250,"v":86000,"c":"p"},{"p":"e","t":260,"v":86000,"c":"p"},{"p":"e","t":270,"v":86000,"c":"p"},{"p":"e","t":280,"v":86000,"c":"p"},{"p":"e","t":290,"v":86000,"c":"p"},{"p":"e","t":300,"v":86000,"c":"p"},{"p":"e","t":310,"v":86000,"c":"p"},{"p":"e","t":320,"v":86000,"c":"p"},{"p":"e","t":330,"v":86000,"c":"p"},{"p":"e","t":340,"v":86000,"c":"p"},{"p":"e","t":350,"v":86000,"c":"p"},{"p":"e","t":360,"v":86000,"c":"p"},{"p":"e","t":370,"v":86200,"c":"p"},{"p":"e","t":380,"v":86000,"c":"p"},{"p":"e","t":390,"v":86000,"c":"p"},{"p":"e","t":400,"v":86000,"c":"p"},{"p":"e","t":410,"v":86000,"c":"p"},

{"p":"f","t":0,"v":10000,"c":"p"},
{"p":"f","t":10,"v":9640,"c":"b"},{"p":"f","t":10,"v":9480,"c":"m"},{"p":"f","t":10,"v":9360,"c":"p"},{"p":"f","t":10,"v":9230,"c":"r"},
{"p":"f","t":20,"v":9850,"c":"s"},{"p":"f","t":20,"v":9730,"c":"m"},{"p":"f","t":20,"v":9640,"c":"b"},{"p":"f","t":20,"v":9480,"c":"c"},{"p":"f","t":20,"v":9230,"c":"i"},{"p":"f","t":20,"v":9050,"c":"u"},{"p":"f","t":20,"v":8860,"c":"p"},{"p":"f","t":20,"v":8680,"c":"r"},
{"p":"f","t":30,"v":9300,"c":"m"},{"p":"f","t":30,"v":9170,"c":"b"},{"p":"f","t":30,"v":8990,"c":"u"},{"p":"f","t":30,"v":8800,"c":"s"},{"p":"f","t":30,"v":8620,"c":"i"},{"p":"f","t":30,"v":8430,"c":"m"},{"p":"f","t":30,"v":8210,"c":"r"},{"p":"f","t":30,"v":8000,"c":"p"},{"p":"f","t":30,"v":7810,"c":"g"},{"p":"f","t":30,"v":7630,"c":"o"},{"p":"f","t":30,"v":7440,"c":"g"},
{"p":"f","t":40,"v":8060,"c":"m"},{"p":"f","t":40,"v":7990,"c":"s"},{"p":"f","t":40,"v":7420,"c":"i"},{"p":"f","t":40,"v":7260,"c":"b"},{"p":"f","t":40,"v":7070,"c":"u"},{"p":"f","t":40,"v":6700,"c":"l"},{"p":"f","t":40,"v":6520,"c":"g"},{"p":"f","t":40,"v":6330,"c":"p"},{"p":"f","t":40,"v":6150,"c":"r"},{"p":"f","t":40,"v":5960,"c":"g"},{"p":"f","t":40,"v":5740,"c":"o"},
{"p":"f","t":50,"v":6580,"c":"m"},{"p":"f","t":50,"v":6390,"c":"s"},{"p":"f","t":50,"v":5530,"c":"u"},{"p":"f","t":50,"v":5340,"c":"b"},{"p":"f","t":50,"v":5220,"c":"i"},{"p":"f","t":50,"v":4730,"c":"l"},{"p":"f","t":50,"v":4480,"c":"g"},{"p":"f","t":50,"v":4230,"c":"p"},{"p":"f","t":50,"v":3980,"c":"r"},{"p":"f","t":50,"v":3800,"c":"o"},
{"p":"f","t":60,"v":4910,"c":"c"},{"p":"f","t":60,"v":4790,"c":"m"},{"p":"f","t":60,"v":4500,"c":"s"},{"p":"f","t":60,"v":3740,"c":"u"},{"p":"f","t":60,"v":3550,"c":"b"},{"p":"f","t":60,"v":3370,"c":"g"},{"p":"f","t":60,"v":3060,"c":"l"},{"p":"f","t":60,"v":2850,"c":"m"},{"p":"f","t":60,"v":2650,"c":"p"},{"p":"f","t":60,"v":2500,"c":"k"},{"p":"f","t":60,"v":2320,"c":"r"},{"p":"f","t":60,"v":2200,"c":"p"},
{"p":"f","t":70,"v":3240,"c":"c"},{"p":"f","t":70,"v":3120,"c":"m"},{"p":"f","t":70,"v":2870,"c":"s"},{"p":"f","t":70,"v":2260,"c":"u"},{"p":"f","t":70,"v":2070,"c":"b"},{"p":"f","t":70,"v":1760,"c":"p"},{"p":"f","t":70,"v":1520,"c":"o"},{"p":"f","t":70,"v":1330,"c":"r"},{"p":"f","t":70,"v":1210,"c":"p"},
{"p":"f","t":80,"v":1890,"c":"m"},{"p":"f","t":80,"v":1760,"c":"s"},{"p":"f","t":80,"v":1520,"c":"c"},{"p":"f","t":80,"v":1180,"c":"u"},{"p":"f","t":80,"v":1020,"c":"b"},{"p":"f","t":80,"v":840,"c":"p"},{"p":"f","t":80,"v":650,"c":"r"},{"p":"f","t":80,"v":530,"c":"o"},
{"p":"f","t":90,"v":1210,"c":"m"},{"p":"f","t":90,"v":1020,"c":"u"},{"p":"f","t":90,"v":840,"c":"b"},{"p":"f","t":90,"v":590,"c":"p"},{"p":"f","t":90,"v":430,"c":"r"},
{"p":"f","t":100,"v":900,"c":"u"},{"p":"f","t":100,"v":650,"c":"m"},{"p":"f","t":100,"v":400,"c":"p"},
{"p":"f","t":110,"v":530,"c":"m"},{"p":"f","t":110,"v":340,"c":"p"},{"p":"f","t":120,"v":250,"c":"m"},{"p":"f","t":120,"v":150,"c":"p"},{"p":"f","t":130,"v":150,"c":"m"},{"p":"f","t":130,"v":60,"c":"p"},
{"p":"f","t":140,"v":30,"c":"p"},{"p":"f","t":150,"v":20,"c":"p"},{"p":"f","t":160,"v":15,"c":"p"},{"p":"f","t":170,"v":10,"c":"p"},{"p":"f","t":180,"v":8,"c":"p"},{"p":"f","t":190,"v":6,"c":"p"},{"p":"f","t":200,"v":5,"c":"p"},{"p":"f","t":210,"v":4,"c":"p"},{"p":"f","t":220,"v":3,"c":"p"},{"p":"f","t":230,"v":2,"c":"p"},{"p":"f","t":240,"v":2,"c":"p"},{"p":"f","t":250,"v":1,"c":"p"},{"p":"f","t":260,"v":1,"c":"p"},{"p":"f","t":270,"v":0,"c":"p"},{"p":"f","t":280,"v":0,"c":"p"},{"p":"f","t":290,"v":0,"c":"p"},{"p":"f","t":300,"v":0,"c":"p"},{"p":"f","t":310,"v":0,"c":"p"},{"p":"f","t":320,"v":0,"c":"p"},{"p":"f","t":330,"v":0,"c":"p"},{"p":"f","t":340,"v":0,"c":"p"},{"p":"f","t":350,"v":0,"c":"p"},{"p":"f","t":360,"v":0,"c":"p"},{"p":"f","t":370,"v":0,"c":"p"},{"p":"f","t":380,"v":0,"c":"p"},{"p":"f","t":390,"v":0,"c":"p"},{"p":"f","t":400,"v":0,"c":"p"},{"p":"f","t":410,"v":0,"c":"p"}
],
"ln": [
{"p":"a","t":0,"v":10000},{"p":"a","t":1,"v":9500},{"p":"a","t":2,"v":9000},{"p":"a","t":3,"v":8800},{"p":"a","t":5,"v":8650},{"p":"a","t":10,"v":8250},{"p":"a","t":20,"v":7500},{"p":"a","t":30,"v":6650},{"p":"a","t":40,"v":5620},{"p":"a","t":50,"v":4550},{"p":"a","t":60,"v":3560},{"p":"a","t":70,"v":2760},{"p":"a","t":80,"v":2150},{"p":"a","t":90,"v":1660},{"p":"a","t":100,"v":1300},{"p":"a","t":110,"v":1030},{"p":"a","t":120,"v":820},{"p":"a","t":130,"v":655},{"p":"a","t":140,"v":520},{"p":"a","t":150,"v":415},{"p":"a","t":160,"v":330},{"p":"a","t":170,"v":260},{"p":"a","t":180,"v":205},{"p":"a","t":190,"v":165},{"p":"a","t":200,"v":130},{"p":"a","t":220,"v":85},{"p":"a","t":240,"v":55},{"p":"a","t":260,"v":35},{"p":"a","t":280,"v":22},{"p":"a","t":300,"v":14},{"p":"a","t":350,"v":5},{"p":"a","t":400,"v":2},
{"p":"b","t":0,"v":10000},{"p":"b","t":2,"v":9100},{"p":"b","t":4,"v":8700},{"p":"b","t":10,"v":8330},{"p":"b","t":20,"v":7800},{"p":"b","t":30,"v":7350},{"p":"b","t":40,"v":6900},{"p":"b","t":50,"v":6300},{"p":"b","t":60,"v":5600},{"p":"b","t":65,"v":5000},{"p":"b","t":70,"v":4100},{"p":"b","t":75,"v":3200},{"p":"b","t":80,"v":2450},{"p":"b","t":90,"v":1350},{"p":"b","t":100,"v":800},{"p":"b","t":110,"v":500},{"p":"b","t":120,"v":320},{"p":"b","t":130,"v":200},{"p":"b","t":140,"v":130},{"p":"b","t":150,"v":80},{"p":"b","t":170,"v":35},{"p":"b","t":200,"v":12},{"p":"b","t":250,"v":4},{"p":"b","t":300,"v":1},{"p":"b","t":400,"v":0},
{"p":"c","t":0,"v":10000},{"p":"c","t":3,"v":9000},{"p":"c","t":6,"v":8600},{"p":"c","t":10,"v":8400},{"p":"c","t":20,"v":8300},{"p":"c","t":30,"v":8400},{"p":"c","t":35,"v":8800},{"p":"c","t":40,"v":9600},{"p":"c","t":45,"v":11500},{"p":"c","t":50,"v":14500},{"p":"c","t":55,"v":18500},{"p":"c","t":58,"v":21000},{"p":"c","t":62,"v":21800},{"p":"c","t":70,"v":21800},{"p":"c","t":75,"v":22400},{"p":"c","t":80,"v":24800},{"p":"c","t":85,"v":30500},{"p":"c","t":90,"v":36500},{"p":"c","t":95,"v":39500},{"p":"c","t":100,"v":41000},{"p":"c","t":105,"v":44500},{"p":"c","t":110,"v":50000},{"p":"c","t":115,"v":56000},{"p":"c","t":120,"v":59000},{"p":"c","t":125,"v":61500},{"p":"c","t":130,"v":66000},{"p":"c","t":135,"v":77000},{"p":"c","t":140,"v":84000},{"p":"c","t":145,"v":86000},{"p":"c","t":150,"v":86000},{"p":"c","t":250,"v":86000},{"p":"c","t":400,"v":86000},
{"p":"d","t":0,"v":10000},{"p":"d","t":3,"v":9000},{"p":"d","t":7,"v":8600},{"p":"d","t":10,"v":8500},{"p":"d","t":20,"v":8550},{"p":"d","t":30,"v":8800},{"p":"d","t":35,"v":9400},{"p":"d","t":40,"v":10800},{"p":"d","t":45,"v":14000},{"p":"d","t":50,"v":18500},{"p":"d","t":53,"v":21000},{"p":"d","t":57,"v":22000},{"p":"d","t":65,"v":22500},{"p":"d","t":70,"v":23500},{"p":"d","t":75,"v":26000},{"p":"d","t":80,"v":29500},{"p":"d","t":85,"v":35000},{"p":"d","t":90,"v":38500},{"p":"d","t":95,"v":41500},{"p":"d","t":100,"v":48000},{"p":"d","t":105,"v":55000},{"p":"d","t":110,"v":61000},{"p":"d","t":115,"v":70000},{"p":"d","t":120,"v":81500},{"p":"d","t":125,"v":85500},{"p":"d","t":130,"v":86000},{"p":"d","t":250,"v":86000},{"p":"d","t":400,"v":86000},
{"p":"e","t":0,"v":10000},{"p":"e","t":3,"v":9100},{"p":"e","t":6,"v":8900},{"p":"e","t":20,"v":8950},{"p":"e","t":40,"v":9000},{"p":"e","t":50,"v":9200},{"p":"e","t":55,"v":9900},{"p":"e","t":60,"v":12500},{"p":"e","t":65,"v":15900},{"p":"e","t":70,"v":17500},{"p":"e","t":75,"v":17900},{"p":"e","t":80,"v":17500},{"p":"e","t":90,"v":16600},{"p":"e","t":100,"v":15300},{"p":"e","t":110,"v":14000},{"p":"e","t":120,"v":12300},{"p":"e","t":130,"v":9900},{"p":"e","t":140,"v":7600},{"p":"e","t":150,"v":5900},{"p":"e","t":160,"v":4500},{"p":"e","t":170,"v":3500},{"p":"e","t":180,"v":2700},{"p":"e","t":190,"v":2100},{"p":"e","t":200,"v":1600},{"p":"e","t":220,"v":1000},{"p":"e","t":240,"v":600},{"p":"e","t":260,"v":380},{"p":"e","t":280,"v":250},{"p":"e","t":300,"v":150},{"p":"e","t":350,"v":60},{"p":"e","t":400,"v":20},
{"p":"f","t":0,"v":10000},{"p":"f","t":1,"v":9500},{"p":"f","t":2,"v":9000},{"p":"f","t":3,"v":8880},{"p":"f","t":5,"v":8950},{"p":"f","t":8,"v":9200},{"p":"f","t":12,"v":9330},{"p":"f","t":15,"v":9330},{"p":"f","t":20,"v":9200},{"p":"f","t":25,"v":8900},{"p":"f","t":30,"v":8500},{"p":"f","t":35,"v":7900},{"p":"f","t":40,"v":7000},{"p":"f","t":45,"v":5900},{"p":"f","t":50,"v":4800},{"p":"f","t":55,"v":3900},{"p":"f","t":60,"v":3000},{"p":"f","t":65,"v":2300},{"p":"f","t":70,"v":1650},{"p":"f","t":75,"v":1150},{"p":"f","t":80,"v":750},{"p":"f","t":85,"v":500},{"p":"f","t":90,"v":330},{"p":"f","t":100,"v":170},{"p":"f","t":110,"v":80},{"p":"f","t":120,"v":35},{"p":"f","t":130,"v":15},{"p":"f","t":150,"v":5},{"p":"f","t":200,"v":1},{"p":"f","t":400,"v":0}
]
},
"concat": [
 {"title": "a)\u00a0\u00a0D=0.03", "width": 326, "height": 292, "layer": [
  {"data": {"name": "pts"}, "transform": [{"filter": "datum.p=='a'"}], "mark": {"type": "point", "shape": "square", "filled": true, "size": 36, "opacity": 1, "strokeWidth": 0},
   "encoding": {"x": {"field": "t", "type": "quantitative", "scale": {"domain": [-16, 416], "nice": false, "zero": false}, "axis": {"values": [0,100,200,300,400], "title": "time (mcs)"}},
    "y": {"field": "v", "type": "quantitative", "scale": {"domain": [-400, 10400], "nice": false, "zero": false}, "axis": {"values": [0,2500,5000,7500,10000], "format": "d", "title": "Total number of individuals"}},
    "color": {"field": "c", "type": "nominal", "legend": null, "scale": {"domain": ["r","v","o","y","h","l","g","s","c","k","b","i","u","m","p"], "range": ["#e8151b","#f0561e","#f7941d","#f2d60f","#c2ec1e","#86e62a","#1ee03a","#1ee8a8","#1ee6f0","#1e9be8","#1414cc","#5018d0","#a818e0","#e01ee0","#e0145a"]}}}},
  {"data": {"name": "ln"}, "transform": [{"filter": "datum.p=='a'"}], "mark": {"type": "line", "color": "#000000", "strokeWidth": 1.3, "interpolate": "monotone"},
   "encoding": {"x": {"field": "t", "type": "quantitative"}, "y": {"field": "v", "type": "quantitative"}}}
 ]},
 {"title": "b)\u00a0\u00a0D=0.05", "width": 326, "height": 292, "layer": [
  {"data": {"name": "pts"}, "transform": [{"filter": "datum.p=='b'"}], "mark": {"type": "point", "shape": "square", "filled": true, "size": 36, "opacity": 1, "strokeWidth": 0},
   "encoding": {"x": {"field": "t", "type": "quantitative", "scale": {"domain": [-16, 416], "nice": false, "zero": false}, "axis": {"values": [0,100,200,300,400], "title": "time (mcs)"}},
    "y": {"field": "v", "type": "quantitative", "scale": {"domain": [-3600, 93600], "nice": false, "zero": false}, "axis": {"values": [0,30000,60000,90000], "format": "d", "title": "Total number of individuals"}},
    "color": {"field": "c", "type": "nominal", "legend": null, "scale": {"domain": ["r","v","o","y","h","l","g","s","c","k","b","i","u","m","p"], "range": ["#e8151b","#f0561e","#f7941d","#f2d60f","#c2ec1e","#86e62a","#1ee03a","#1ee8a8","#1ee6f0","#1e9be8","#1414cc","#5018d0","#a818e0","#e01ee0","#e0145a"]}}}},
  {"data": {"name": "ln"}, "transform": [{"filter": "datum.p=='b'"}], "mark": {"type": "line", "color": "#000000", "strokeWidth": 1.3, "interpolate": "monotone"},
   "encoding": {"x": {"field": "t", "type": "quantitative"}, "y": {"field": "v", "type": "quantitative"}}}
 ]},
 {"title": "c)\u00a0\u00a0D=0.07", "width": 326, "height": 292, "layer": [
  {"data": {"name": "pts"}, "transform": [{"filter": "datum.p=='c'"}], "mark": {"type": "point", "shape": "square", "filled": true, "size": 36, "opacity": 1, "strokeWidth": 0},
   "encoding": {"x": {"field": "t", "type": "quantitative", "scale": {"domain": [-16, 416], "nice": false, "zero": false}, "axis": {"values": [0,100,200,300,400], "title": "time (mcs)"}},
    "y": {"field": "v", "type": "quantitative", "scale": {"domain": [-3600, 93600], "nice": false, "zero": false}, "axis": {"values": [0,30000,60000,90000], "format": "d", "title": "Total number of individuals"}},
    "color": {"field": "c", "type": "nominal", "legend": null, "scale": {"domain": ["r","v","o","y","h","l","g","s","c","k","b","i","u","m","p"], "range": ["#e8151b","#f0561e","#f7941d","#f2d60f","#c2ec1e","#86e62a","#1ee03a","#1ee8a8","#1ee6f0","#1e9be8","#1414cc","#5018d0","#a818e0","#e01ee0","#e0145a"]}}}},
  {"data": {"name": "ln"}, "transform": [{"filter": "datum.p=='c'"}], "mark": {"type": "line", "color": "#000000", "strokeWidth": 1.3, "interpolate": "monotone"},
   "encoding": {"x": {"field": "t", "type": "quantitative"}, "y": {"field": "v", "type": "quantitative"}}}
 ]},
 {"title": "d)\u00a0\u00a0D=0.09", "width": 326, "height": 292, "layer": [
  {"data": {"name": "pts"}, "transform": [{"filter": "datum.p=='d'"}], "mark": {"type": "point", "shape": "square", "filled": true, "size": 36, "opacity": 1, "strokeWidth": 0},
   "encoding": {"x": {"field": "t", "type": "quantitative", "scale": {"domain": [-16, 416], "nice": false, "zero": false}, "axis": {"values": [0,100,200,300,400], "title": "time (mcs)"}},
    "y": {"field": "v", "type": "quantitative", "scale": {"domain": [-3600, 93600], "nice": false, "zero": false}, "axis": {"values": [0,30000,60000,90000], "format": "d", "title": "Total number of individuals"}},
    "color": {"field": "c", "type": "nominal", "legend": null, "scale": {"domain": ["r","v","o","y","h","l","g","s","c","k","b","i","u","m","p"], "range": ["#e8151b","#f0561e","#f7941d","#f2d60f","#c2ec1e","#86e62a","#1ee03a","#1ee8a8","#1ee6f0","#1e9be8","#1414cc","#5018d0","#a818e0","#e01ee0","#e0145a"]}}}},
  {"data": {"name": "ln"}, "transform": [{"filter": "datum.p=='d'"}], "mark": {"type": "line", "color": "#000000", "strokeWidth": 1.3, "interpolate": "monotone"},
   "encoding": {"x": {"field": "t", "type": "quantitative"}, "y": {"field": "v", "type": "quantitative"}}}
 ]},
 {"title": "e)\u00a0\u00a0D=0.14", "width": 326, "height": 292, "layer": [
  {"data": {"name": "pts"}, "transform": [{"filter": "datum.p=='e'"}], "mark": {"type": "point", "shape": "square", "filled": true, "size": 36, "opacity": 1, "strokeWidth": 0},
   "encoding": {"x": {"field": "t", "type": "quantitative", "scale": {"domain": [-16, 416], "nice": false, "zero": false}, "axis": {"values": [0,100,200,300,400], "title": "time (mcs)"}},
    "y": {"field": "v", "type": "quantitative", "scale": {"domain": [-3600, 93600], "nice": false, "zero": false}, "axis": {"values": [0,30000,60000,90000], "format": "d", "title": "Total number of individuals"}},
    "color": {"field": "c", "type": "nominal", "legend": null, "scale": {"domain": ["r","v","o","y","h","l","g","s","c","k","b","i","u","m","p"], "range": ["#e8151b","#f0561e","#f7941d","#f2d60f","#c2ec1e","#86e62a","#1ee03a","#1ee8a8","#1ee6f0","#1e9be8","#1414cc","#5018d0","#a818e0","#e01ee0","#e0145a"]}}}},
  {"data": {"name": "ln"}, "transform": [{"filter": "datum.p=='e'"}], "mark": {"type": "line", "color": "#000000", "strokeWidth": 1.3, "interpolate": "monotone"},
   "encoding": {"x": {"field": "t", "type": "quantitative"}, "y": {"field": "v", "type": "quantitative"}}}
 ]},
 {"title": "f)\u00a0\u00a0D=0.19", "width": 326, "height": 292, "layer": [
  {"data": {"name": "pts"}, "transform": [{"filter": "datum.p=='f'"}], "mark": {"type": "point", "shape": "square", "filled": true, "size": 36, "opacity": 1, "strokeWidth": 0},
   "encoding": {"x": {"field": "t", "type": "quantitative", "scale": {"domain": [-16, 416], "nice": false, "zero": false}, "axis": {"values": [0,100,200,300,400], "title": "time (mcs)"}},
    "y": {"field": "v", "type": "quantitative", "scale": {"domain": [-400, 10400], "nice": false, "zero": false}, "axis": {"values": [0,2500,5000,7500,10000], "format": "d", "title": "Total number of individuals"}},
    "color": {"field": "c", "type": "nominal", "legend": null, "scale": {"domain": ["r","v","o","y","h","l","g","s","c","k","b","i","u","m","p"], "range": ["#e8151b","#f0561e","#f7941d","#f2d60f","#c2ec1e","#86e62a","#1ee03a","#1ee8a8","#1ee6f0","#1e9be8","#1414cc","#5018d0","#a818e0","#e01ee0","#e0145a"]}}}},
  {"data": {"name": "ln"}, "transform": [{"filter": "datum.p=='f'"}], "mark": {"type": "line", "color": "#000000", "strokeWidth": 1.3, "interpolate": "monotone"},
   "encoding": {"x": {"field": "t", "type": "quantitative"}, "y": {"field": "v", "type": "quantitative"}}}
 ]}
],
"columns": 2,
"spacing": {"row": 98, "column": 75},
"bounds": "flush",
"resolve": {"scale": {"x": "independent", "y": "independent"}}
}
